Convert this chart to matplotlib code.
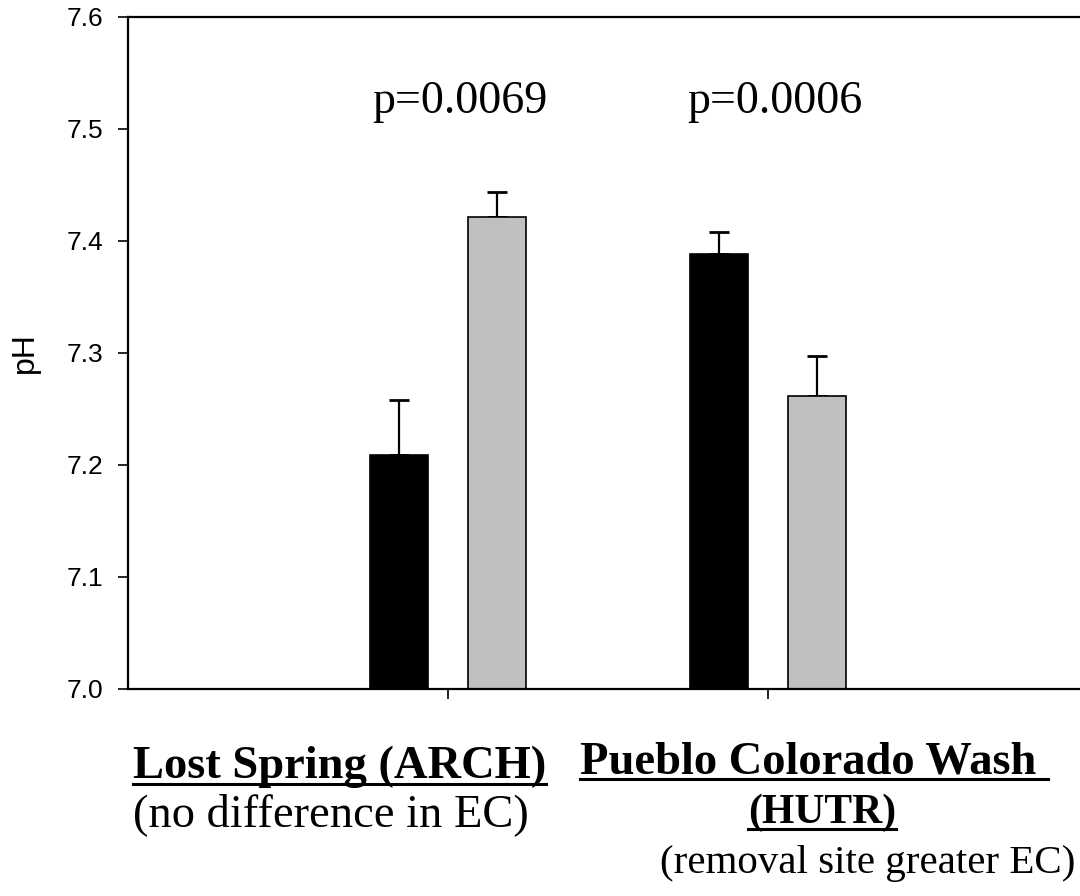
import matplotlib
matplotlib.use("Agg")
import matplotlib.pyplot as plt
from matplotlib.lines import Line2D
import numpy as np

# ---- data ----
sites = ["Lost Spring (ARCH)", "Pueblo Colorado Wash (HUTR)"]
black_vals = [7.209, 7.388]
black_err = [0.049, 0.020]
gray_vals = [7.421, 7.262]
gray_err = [0.023, 0.035]
p_labels = ["p=0.0069", "p=0.0006"]
y_ticks = [7.0, 7.1, 7.2, 7.3, 7.4, 7.5, 7.6]

W, H = 1080, 896
fig = plt.figure(figsize=(W / 100, H / 100), dpi=100)
ax = fig.add_axes([128 / W, 1 - 689 / H, 960 / W, 672 / H])

x = np.arange(1, len(sites) + 1)
off = 0.153
bw = 0.181
ekw = dict(elinewidth=1.6, capthick=2.0, ecolor="black")
ax.bar(x - off, black_vals, width=bw, color="black", edgecolor="black",
       linewidth=1.2, zorder=2)
ax.bar(x + off, gray_vals, width=bw, color="#c0c0c0", edgecolor="black",
       linewidth=1.2, zorder=2)
ax.errorbar(x - off, black_vals, yerr=[[0] * len(x), black_err], fmt="none",
            capsize=7, zorder=1, **ekw)
ax.errorbar(x + off, gray_vals, yerr=[[0] * len(x), gray_err], fmt="none",
            capsize=7, zorder=1, **ekw)

ax.set_xlim(0, 3)
ax.set_ylim(7.0, 7.6)
ax.set_yticks(y_ticks)
ax.set_yticklabels([f"{t:.1f}" for t in y_ticks], fontfamily="Liberation Sans", fontsize=19)
ax.set_xticks(x)
ax.set_xticklabels([""] * len(x))
ax.tick_params(axis="both", direction="out", length=7.5, width=1.2, colors="black")
ax.tick_params(axis="y", pad=10)
for s in ax.spines.values():
    s.set_linewidth(1.6)
ax.spines["right"].set_visible(False)

ax.set_ylabel("pH", fontfamily="Liberation Sans", fontsize=23)
ax.yaxis.set_label_coords((40 - 128) / 960, 0.5)

for xi, lab in zip([1.0375, 2.022], p_labels):
    ax.text(xi, 7.514, lab, ha="center", va="baseline",
            fontfamily="Liberation Serif", fontsize=33)

serif = "Liberation Serif"

def fy(py):
    return 1 - py / H

t1 = fig.text(133 / W, fy(778), "Lost Spring (ARCH)", ha="left", va="baseline",
              fontfamily=serif, fontsize=33.5, fontweight="bold")
t2 = fig.text(133 / W, fy(826), "(no difference in EC)", ha="left", va="baseline",
              fontfamily=serif, fontsize=33.5)
t3 = fig.text(580 / W, fy(773), "Pueblo Colorado Wash ", ha="left", va="baseline",
              fontfamily=serif, fontsize=33.5, fontweight="bold")
t4 = fig.text(822 / W, fy(823), "(HUTR)", ha="center", va="baseline",
              fontfamily=serif, fontsize=30, fontweight="bold")
t5 = fig.text(1075 / W, fy(873), "(removal site greater EC)", ha="right", va="baseline",
              fontfamily=serif, fontsize=29.5)

fig.canvas.draw()
renderer = fig.canvas.get_renderer()
for t, base_px in [(t1, 778), (t3, 773), (t4, 823)]:
    bb = t.get_window_extent(renderer)
    yline = fy(base_px + 6)
    fig.add_artist(Line2D([bb.x0 / W, bb.x1 / W], [yline, yline],
                          color="black", linewidth=2.2, transform=fig.transFigure))

fig.savefig("out.png", dpi=100)
